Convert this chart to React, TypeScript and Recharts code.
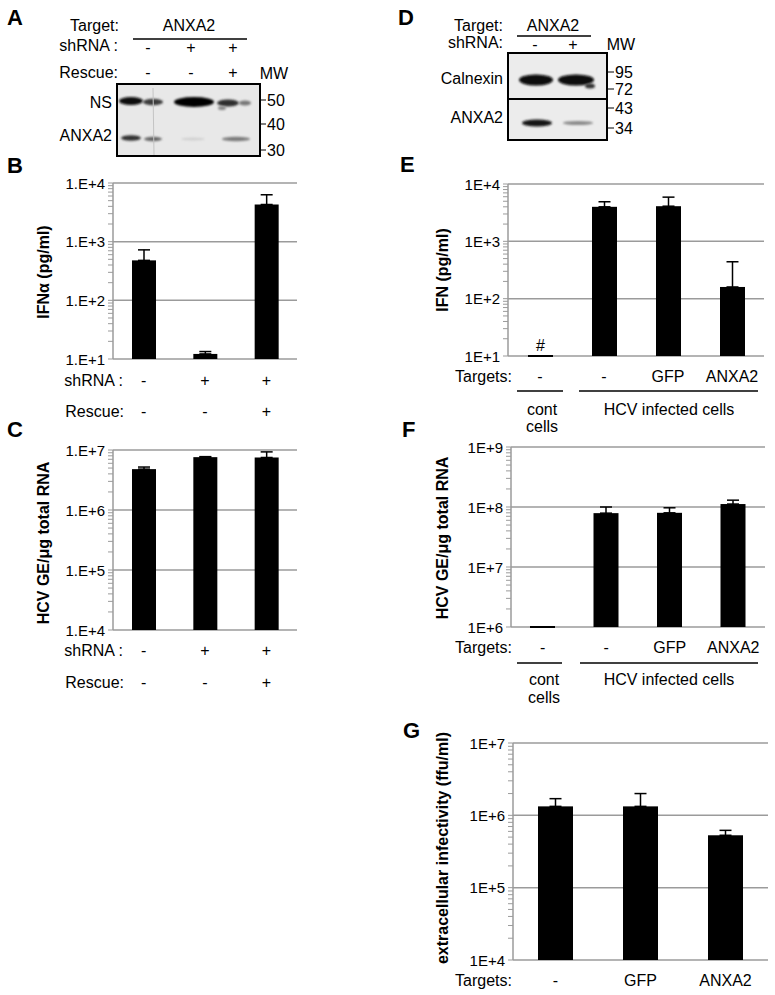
import { BarChart, Bar, XAxis, YAxis, CartesianGrid, ErrorBar, LabelList } from "recharts";

const FONT = "'Liberation Sans', Arial, Helvetica, sans-serif";
const GRID = "#9b9b9b";

// panel B
const bCats = ["c1", "c2", "c3"];
const bShRNA = ["-", "+", "+"];
const bRescue = ["-", "-", "+"];
const bIfn = [480, 12.2, 4300];
const bIfnErr = [245, 1.2, 2000];

// panel C
const cHcv = [4.8e6, 7.6e6, 7.5e6];
const cHcvErr = [0.4e6, 0.15e6, 1.8e6];

// panel E
const eCats = ["e1", "e2", "e3", "e4"];
const eTargets = ["-", "-", "GFP", "ANXA2"];
const eIfn = [10, 4000, 4100, 160];
const eIfnErr = [0, 900, 1800, 280];
const eNote = ["#", "", "", ""];

// panel F
const fHcv = [1e6, 7.9e7, 8.0e7, 1.12e8];
const fHcvErr = [0, 2.1e7, 1.7e7, 1.8e7];

// panel G
const gCats = ["g1", "g2", "g3"];
const gTargets = ["-", "GFP", "ANXA2"];
const gInf = [1.33e6, 1.33e6, 5.3e5];
const gInfErr = [0.37e6, 0.67e6, 0.9e5];

// blot lanes (A and D)
const aLaneX = [148, 191, 233];
const aShRNA = ["-", "+", "+"];
const aRescue = ["-", "-", "+"];
const aMW = [["50", 100], ["40", 124], ["30", 150]] as const;
const dLaneX = [535, 573];
const dShRNA = ["-", "+"];
const dMW = [["95", 72], ["72", 89], ["43", 108], ["34", 128]] as const;

const logTicks = (lo: number, hi: number) => {
  const out: number[] = [];
  for (let k = lo; k < hi; k++) for (let m = 1; m < 10; m++) out.push(m * Math.pow(10, k));
  out.push(Math.pow(10, hi));
  return out;
};
const decades = (lo: number, hi: number) => {
  const out: number[] = [];
  for (let k = lo; k <= hi; k++) out.push(Math.pow(10, k));
  return out;
};

const LogTick = (dot: boolean) => (p: any) => {
  const v = p.payload.value;
  const e = Math.log10(v);
  const major = Math.abs(e - Math.round(e)) < 1e-6;
  return (
    <g>
      <line x1={p.x - 5} x2={p.x} y1={p.y} y2={p.y} stroke={GRID} strokeWidth={1} />
      {major && (
        <text x={p.x - 8} y={p.y} textAnchor="end" dominantBaseline="central" fontSize={15} fontFamily={FONT} fill="#000">
          {dot ? `1.E+${Math.round(e)}` : `1E+${Math.round(e)}`}
        </text>
      )}
    </g>
  );
};

const RowTick = (rows: string[][], offs: number[]) => (p: any) => {
  const i = p.index ?? p.payload?.index ?? 0;
  return (
    <g>
      {rows.map((r, j) => (
        <text key={j} x={p.x} y={p.y + offs[j]} textAnchor="middle" dominantBaseline="central" fontSize={16} fontFamily={FONT} fill="#000">
          {r[i]}
        </text>
      ))}
    </g>
  );
};

const FlatBar = (p: any) => {
  const h = p.height;
  if (h < 2) return <rect x={p.x} y={p.y + h - 1} width={p.width} height={2} fill="#000" />;
  return <rect x={p.x} y={p.y} width={p.width} height={h} fill="#000" />;
};

type PanelProps = {
  data: any[];
  left: number;
  top: number;
  plotW: number;
  plotH: number;
  lo: number;
  hi: number;
  dot: boolean;
  barSize: number;
  rows: string[][];
  offs: number[];
  xH: number;
  note?: boolean;
};

const LogPanel = ({ data, left, top, plotW, plotH, lo, hi, dot, barSize, rows, offs, xH, note }: PanelProps) => {
  const yW = 70;
  const width = yW + plotW + 5;
  const height = 10 + plotH + xH;
  return (
    <div style={{ position: "absolute", left, top, width, height }}>
      <BarChart width={width} height={height} data={data} margin={{ top: 10, right: 5, left: 0, bottom: 0 }}>
        <CartesianGrid vertical={false} stroke={GRID} strokeWidth={1.5} horizontalValues={decades(lo, hi)} />
        <XAxis
          dataKey="cat"
          axisLine={false}
          tickLine={false}
          tickSize={0}
          tickMargin={0}
          interval={0}
          height={xH}
          tick={RowTick(rows, offs)}
        />
        <YAxis
          scale="log"
          domain={[Math.pow(10, lo), Math.pow(10, hi)]}
          ticks={logTicks(lo, hi)}
          interval={0}
          width={yW}
          axisLine={{ stroke: GRID, strokeWidth: 1.5 }}
          tickLine={false}
          tickSize={0}
          tickMargin={0}
          tick={LogTick(dot)}
        />
        <Bar dataKey="v" fill="#000" barSize={barSize} isAnimationActive={false} shape={FlatBar}>
          <ErrorBar dataKey="err" direction="y" width={6} stroke="#000" strokeWidth={1.5} />
          {note && <LabelList dataKey="note" position="top" offset={5} fill="#000" fontSize={16} fontFamily={FONT} />}
        </Bar>
      </BarChart>
    </div>
  );
};

const T = (props: any) => <text fontFamily={FONT} fontSize={16} fill="#000" dominantBaseline="central" {...props} />;
const Letter = ({ x, y, c }: { x: number; y: number; c: string }) => (
  <text x={x} y={y} fontFamily={FONT} fontSize={22} fontWeight="bold" fill="#000">
    {c}
  </text>
);
const YLabel = ({ x, y, s }: { x: number; y: number; s: string }) => (
  <text x={x} y={y} transform={`rotate(-90 ${x} ${y})`} textAnchor="middle" dominantBaseline="central" fontFamily={FONT} fontSize={16} fontWeight="bold" fill="#000">
    {s}
  </text>
);

const Band = ({ cx, cy, rx, ry, c }: { cx: number; cy: number; rx: number; ry: number; c: string }) => (
  <ellipse cx={cx} cy={cy} rx={rx} ry={ry} fill={c} filter="url(#blur)" />
);

const Overlay = () => (
  <svg width={775} height={995} style={{ position: "absolute", left: 0, top: 0, pointerEvents: "none" }}>
    <defs>
      <filter id="blur" x="-50%" y="-100%" width="200%" height="300%">
        <feGaussianBlur stdDeviation="1.3" />
      </filter>
    </defs>
    <Letter x={7} y={25} c="A" />
    <Letter x={7} y={173} c="B" />
    <Letter x={7} y={437} c="C" />
    <Letter x={398} y={25} c="D" />
    <Letter x={400} y={172} c="E" />
    <Letter x={402} y={437} c="F" />
    <Letter x={403} y={738} c="G" />

    {/* panel A blot */}
    <T x={119} y={25} textAnchor="end">Target:</T>
    <T x={189} y={25} textAnchor="middle">ANXA2</T>
    <line x1={133} x2={247} y1={39} y2={39} stroke="#000" strokeWidth={1.5} />
    <T x={118} y={45} textAnchor="end">shRNA :</T>
    <T x={118} y={72} textAnchor="end">Rescue:</T>
    {aLaneX.map((x, i) => (
      <T key={"as" + i} x={x} y={47} textAnchor="middle">{aShRNA[i]}</T>
    ))}
    {aLaneX.map((x, i) => (
      <T key={"ar" + i} x={x} y={72} textAnchor="middle">{aRescue[i]}</T>
    ))}
    <T x={274} y={73} textAnchor="middle">MW</T>
    <rect x={117} y={84} width={143} height={72} fill="#e8e8e8" />
    <Band cx={131} cy={101} rx={12} ry={4} c="#111" />
    <Band cx={153} cy={102} rx={10} ry={3.2} c="#3a3a3a" />
    <Band cx={194} cy={102} rx={20} ry={5} c="#050505" />
    <Band cx={228} cy={103} rx={11} ry={3.5} c="#2e2e2e" />
    <Band cx={245} cy={103} rx={6} ry={2.5} c="#777" />
    <Band cx={222} cy={108} rx={4} ry={2} c="#888" />
    <Band cx={131} cy={138} rx={10} ry={2.8} c="#333" />
    <Band cx={153} cy={139} rx={9} ry={2.2} c="#666" />
    <Band cx={193} cy={139} rx={12} ry={1.5} c="#d0d0d0" />
    <Band cx={236} cy={139} rx={14} ry={2.2} c="#7a7a7a" />
    <line x1={153} x2={154} y1={88} y2={155} stroke="#c4c4c4" strokeWidth={1} />
    <rect x={117} y={84} width={143} height={72} fill="none" stroke="#000" strokeWidth={2} />
    <T x={112} y={102} textAnchor="end">NS</T>
    <T x={112} y={135} textAnchor="end">ANXA2</T>
    {aMW.map(([s, y]) => (
      <g key={"amw" + s}>
        <line x1={261} x2={266} y1={y} y2={y} stroke="#000" strokeWidth={1} />
        <T x={267} y={y}>{s}</T>
      </g>
    ))}

    {/* panel D blot */}
    <T x={503} y={25} textAnchor="end">Target:</T>
    <T x={553} y={25} textAnchor="middle">ANXA2</T>
    <line x1={517} x2={591} y1={36} y2={36} stroke="#000" strokeWidth={1.5} />
    <T x={503} y={42} textAnchor="end">shRNA:</T>
    {dLaneX.map((x, i) => (
      <T key={"ds" + i} x={x} y={44} textAnchor="middle">{dShRNA[i]}</T>
    ))}
    <T x={621} y={44} textAnchor="middle">MW</T>
    <rect x={508} y={53} width={99} height={87} fill="#ececec" />
    <Band cx={536} cy={80} rx={17} ry={5.5} c="#080808" />
    <Band cx={576} cy={80} rx={18} ry={5.5} c="#080808" />
    <Band cx={590} cy={86} rx={5} ry={2.5} c="#333" />
    <Band cx={537} cy={123} rx={15} ry={3.5} c="#181818" />
    <Band cx={578} cy={123} rx={15} ry={2} c="#8a8a8a" />
    <rect x={508} y={53} width={99} height={87} fill="none" stroke="#000" strokeWidth={2} />
    <line x1={508} x2={607} y1={99} y2={99} stroke="#000" strokeWidth={2} />
    <T x={503} y={78} textAnchor="end">Calnexin</T>
    <T x={503} y={117} textAnchor="end">ANXA2</T>
    {dMW.map(([s, y]) => (
      <g key={"dmw" + s}>
        <line x1={608} x2={614} y1={y} y2={y} stroke="#000" strokeWidth={1} />
        <T x={615} y={y}>{s}</T>
      </g>
    ))}

    {/* row labels */}
    <T x={123} y={380} textAnchor="end">shRNA :</T>
    <T x={124} y={411} textAnchor="end">Rescue:</T>
    <T x={123} y={650} textAnchor="end">shRNA :</T>
    <T x={124} y={682} textAnchor="end">Rescue:</T>
    <T x={512} y={376} textAnchor="end">Targets:</T>
    <T x={512} y={647} textAnchor="end">Targets:</T>
    <T x={512} y={980} textAnchor="end">Targets:</T>

    {/* group labels E */}
    <line x1={517} x2={563} y1={391} y2={391} stroke="#000" strokeWidth={1.5} />
    <line x1={579} x2={758} y1={391} y2={391} stroke="#000" strokeWidth={1.5} />
    <T x={542} y={409} textAnchor="middle">cont</T>
    <T x={542} y={426} textAnchor="middle">cells</T>
    <T x={669} y={409} textAnchor="middle">HCV infected cells</T>
    {/* group labels F */}
    <line x1={517} x2={562} y1={663} y2={663} stroke="#000" strokeWidth={1.5} />
    <line x1={580} x2={758} y1={663} y2={663} stroke="#000" strokeWidth={1.5} />
    <T x={544} y={679} textAnchor="middle">cont</T>
    <T x={544} y={697} textAnchor="middle">cells</T>
    <T x={669} y={679} textAnchor="middle">HCV infected cells</T>

    <YLabel x={43} y={272} s="IFNα (pg/ml)" />
    <YLabel x={43} y={543} s="HCV GE/μg total RNA" />
    <YLabel x={442} y={270} s="IFN (pg/ml)" />
    <YLabel x={442} y={538} s="HCV GE/μg total RNA" />
    <YLabel x={442} y={848} s="extracellular infectivity (ffu/ml)" />
  </svg>
);

const rowsOf = (cats: string[], vals: number[], errs: number[], extra?: string[]) =>
  cats.map((c, i) => ({ cat: c, v: vals[i], err: [0, errs[i]], note: extra ? extra[i] : "" }));

const App = () => {
  const bData = rowsOf(bCats, bIfn, bIfnErr);
  const cData = rowsOf(bCats, cHcv, cHcvErr);
  const eData = rowsOf(eCats, eIfn, eIfnErr, eNote);
  const fData = rowsOf(eCats, fHcv, fHcvErr);
  const gData = rowsOf(gCats, gInf, gInfErr);
  return (
    <div style={{ position: "absolute", left: 0, top: 0, width: 775, height: 995, background: "#fff", fontFamily: FONT }}>
      <LogPanel data={bData} left={43} top={173} plotW={184} plotH={176} lo={1} hi={4} dot barSize={24} rows={[bShRNA, bRescue]} offs={[21, 52]} xH={65} />
      <LogPanel data={cData} left={43} top={440} plotW={184} plotH={180} lo={4} hi={7} dot barSize={24} rows={[bShRNA, bRescue]} offs={[20, 52]} xH={65} />
      <LogPanel data={eData} left={438} top={174} plotW={256} plotH={172} lo={1} hi={4} dot={false} barSize={25} rows={[eTargets]} offs={[20]} xH={40} note />
      <LogPanel data={fData} left={441} top={437} plotW={254} plotH={180} lo={6} hi={9} dot={false} barSize={25} rows={[eTargets]} offs={[20]} xH={40} />
      <LogPanel data={gData} left={443} top={733} plotW={255} plotH={217} lo={4} hi={7} dot={false} barSize={35} rows={[gTargets]} offs={[20]} xH={30} />
      <Overlay />
    </div>
  );
};

export default App;
